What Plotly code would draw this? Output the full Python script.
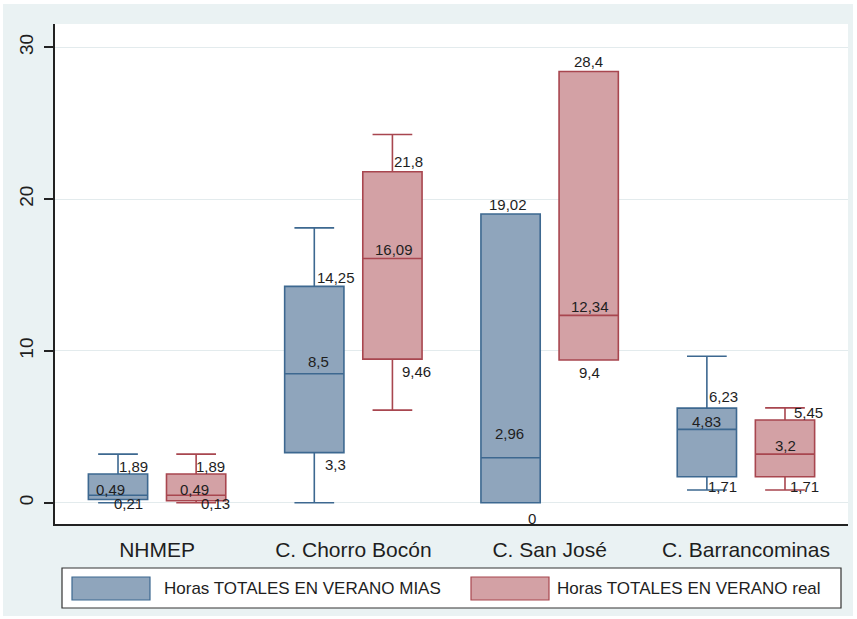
import plotly.graph_objects as go

# Stations and the two series of summer hours
categories = ["NHMEP", "C. Chorro Bocón", "C. San José", "C. Barrancominas"]
series_names = ["Horas TOTALES EN VERANO MIAS", "Horas TOTALES EN VERANO real"]

# Box statistics, one value per station
mias_lower = [0, 0, 0, 0.84]
mias_q1 = [0.21, 3.3, 0, 1.71]
mias_median = [0.49, 8.5, 2.96, 4.83]
mias_q3 = [1.89, 14.25, 19.02, 6.23]
mias_upper = [3.2, 18.1, 19.02, 9.65]

real_lower = [0, 6.1, 9.4, 0.84]
real_q1 = [0.13, 9.46, 9.4, 1.71]
real_median = [0.49, 16.09, 12.34, 3.2]
real_q3 = [1.89, 21.8, 28.4, 5.45]
real_upper = [3.2, 24.25, 28.4, 6.25]

y_ticks = [0, 10, 20, 30]

# Styling
FONT = "Liberation Sans, Arial, sans-serif"
BG = "#EAF2F3"
BLUE_FILL, BLUE_LINE = "#8FA5BC", "#3D6890"
RED_FILL, RED_LINE = "#D3A1A5", "#A8464F"
TEXT = "#1e1e1e"

pos = list(range(1, len(categories) + 1))
offset = 0.199
box_w = 0.302

# Pixel nudges (dx, dy) for the value labels: q3, median, q1
mias_label_shift = {
    "q3": [(15, 8), (22, 9), (-3, 9), (17, 12)],
    "median": [(-8, 6), (4, 12), (-1, 24), (0, 8)],
    "q1": [(10, -4), (21, -12), (21, -16), (16, -10)],
}
real_label_shift = {
    "q3": [(14, 8), (16, 10), (0, 10), (24, 7)],
    "median": [(-2, 6), (2, 9), (1, 9), (1, 9)],
    "q1": [(19, -3), (24, -12), (1, -12), (20, -10)],
}


def fmt(v):
    return f"{v:g}".replace(".", ",")


fig = go.Figure()

series = [
    (mias_lower, mias_q1, mias_median, mias_q3, mias_upper, -offset,
     BLUE_FILL, BLUE_LINE, mias_label_shift),
    (real_lower, real_q1, real_median, real_q3, real_upper, offset,
     RED_FILL, RED_LINE, real_label_shift),
]

annotations = []
for name, (lo, q1, med, q3, hi, off, fill, line, shifts) in zip(series_names, series):
    xs = [p + off for p in pos]
    fig.add_trace(go.Box(
        name=name,
        x=xs,
        lowerfence=lo, q1=q1, median=med, q3=q3, upperfence=hi,
        width=box_w,
        whiskerwidth=0.67,
        fillcolor=fill,
        line=dict(color=line, width=1.6),
        boxpoints=False,
        hoverinfo="skip",
        showlegend=False,
    ))
    for key, vals in (("q3", q3), ("median", med), ("q1", q1)):
        for x, v, (dx, dy) in zip(xs, vals, shifts[key]):
            annotations.append(dict(
                x=x, y=v, xref="x", yref="y", text=fmt(v), showarrow=False,
                xshift=dx, yshift=dy, xanchor="center", yanchor="middle",
                font=dict(family=FONT, size=15, color=TEXT),
            ))

# Legend drawn as a framed strip below the axis
PX_L, PX_R, PX_T, PX_B = 55, 848, 24, 524
W, H = PX_R - PX_L, PX_B - PX_T


def px(xp):
    return (xp - PX_L) / W


def py(yp):
    return (PX_B - yp) / H


shapes = [
    dict(type="rect", xref="paper", yref="paper", layer="below",
         x0=px(3), x1=px(853), y0=py(616), y1=py(4),
         fillcolor=BG, line=dict(width=0)),
    dict(type="rect", xref="paper", yref="paper", layer="below",
         x0=0, x1=1, y0=0, y1=1, fillcolor="white", line=dict(width=0)),
    dict(type="rect", xref="paper", yref="paper",
         x0=px(62), x1=px(841), y0=py(608), y1=py(568),
         fillcolor="white", line=dict(color="#333333", width=1.2)),
    dict(type="rect", xref="paper", yref="paper",
         x0=px(72), x1=px(150), y0=py(600), y1=py(577),
         fillcolor=BLUE_FILL, line=dict(color=BLUE_LINE, width=1.2)),
    dict(type="rect", xref="paper", yref="paper",
         x0=px(471), x1=px(549), y0=py(600), y1=py(577),
         fillcolor=RED_FILL, line=dict(color=RED_LINE, width=1.2)),
]
for x_left, label in ((162, series_names[0]), (555, series_names[1])):
    annotations.append(dict(
        x=px(x_left), y=py(588.5), xref="paper", yref="paper", text=label,
        showarrow=False, xanchor="left", yanchor="middle",
        font=dict(family=FONT, size=17, color=TEXT),
    ))

fig.update_layout(
    width=857, height=619,
    margin=dict(l=PX_L, r=857 - PX_R, t=PX_T, b=619 - PX_B),
    paper_bgcolor="white",
    plot_bgcolor="white",
    boxmode="overlay",
    showlegend=False,
    shapes=shapes,
    annotations=annotations,
    xaxis=dict(
        range=[0.48, 4.52],
        tickvals=pos, ticktext=categories,
        showgrid=False, zeroline=False,
        showline=True, linecolor="#222222", linewidth=2,
        ticks="outside", ticklen=0,
        ticklabelstandoff=6,
        tickfont=dict(family=FONT, size=21, color=TEXT),
    ),
    yaxis=dict(
        range=[-1.40, 31.53],
        tickvals=y_ticks,
        showgrid=True, gridcolor="#E3EBED", gridwidth=1,
        zeroline=False,
        showline=True, linecolor="#222222", linewidth=2,
        ticks="outside", ticklen=9, tickwidth=1.5, tickcolor="#222222",
        tickangle=-90,
        ticklabelstandoff=3,
        tickfont=dict(family=FONT, size=19, color=TEXT),
    ),
)

fig.write_html("out.html")
